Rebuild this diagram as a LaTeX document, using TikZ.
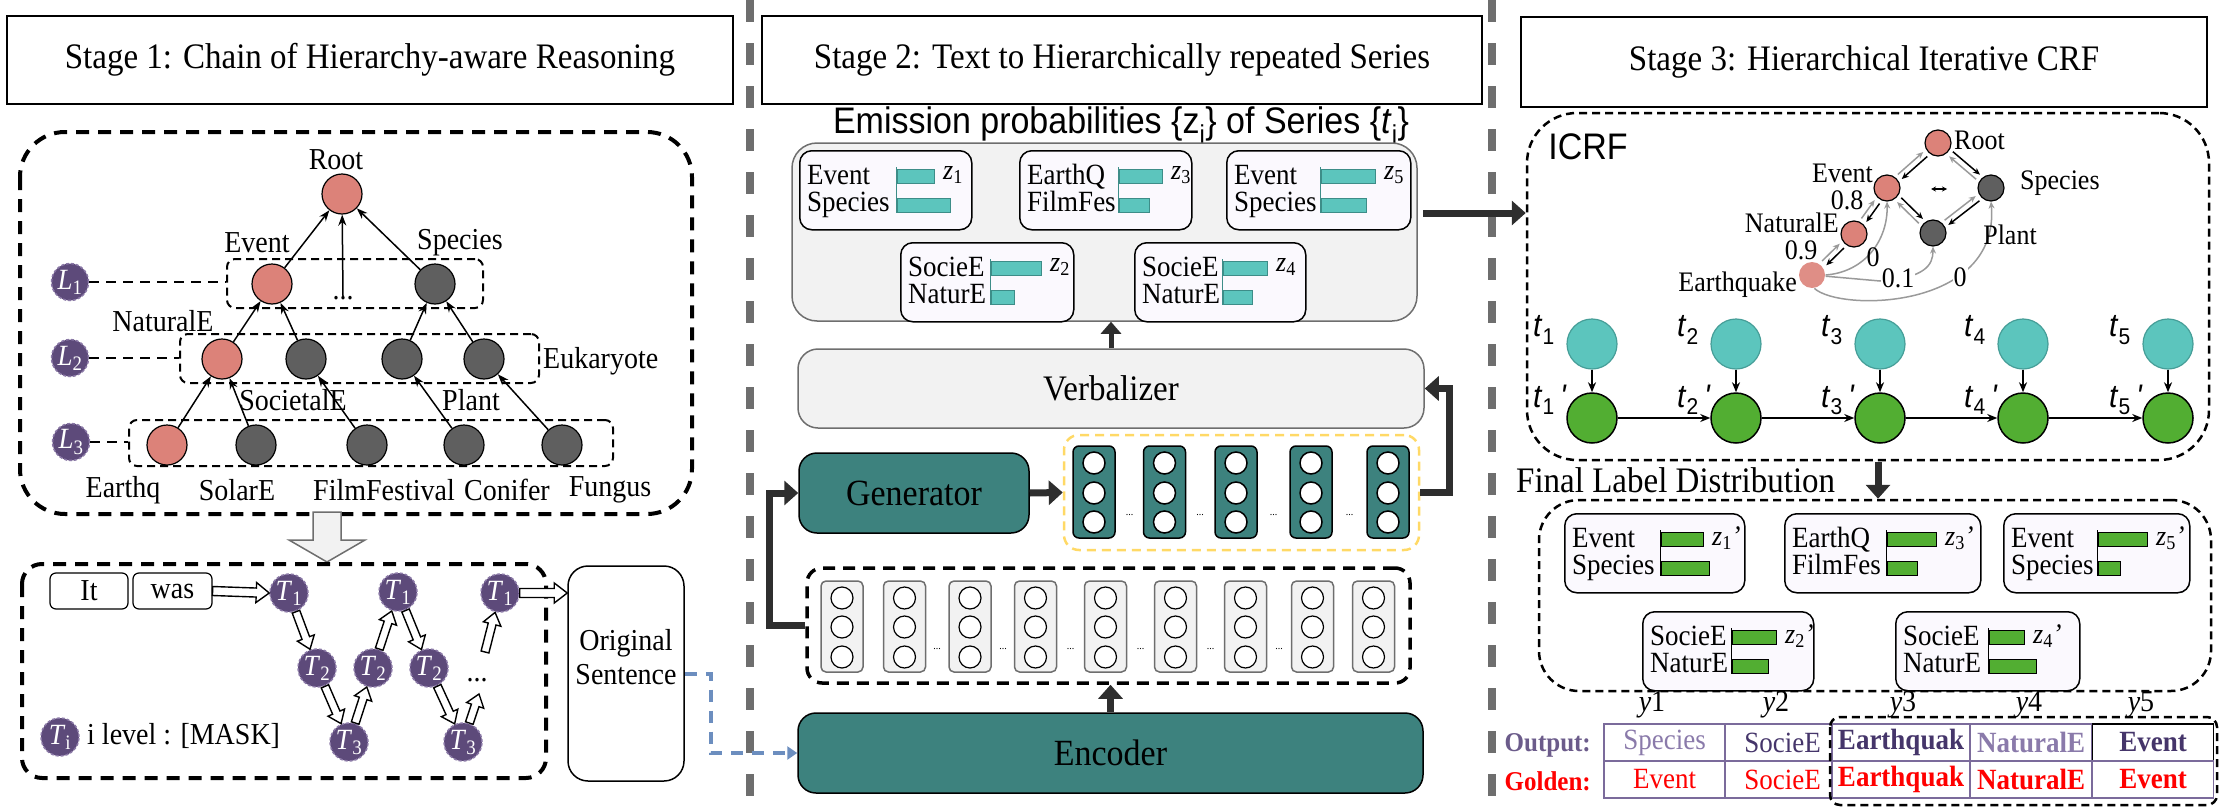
\documentclass[tikz,border=0pt]{standalone}
\usepackage{fontspec}
\setmainfont{Liberation Serif}[FakeStretch=0.92]
\newfontfamily\arialf{Liberation Sans}[FakeStretch=0.92]
\usetikzlibrary{arrows.meta,calc}
\newcommand\fsz[1]{\fontsize{\fpeval{#1*1.087}}{\fpeval{#1*1.087}}\selectfont}
\definecolor{pinkc}{HTML}{DC8279}
\definecolor{darkc}{HTML}{5F5F5F}
\definecolor{purp}{HTML}{5D4A7A}
\definecolor{purpb}{HTML}{8A78A6}
\definecolor{tealbar}{HTML}{5CC5BD}
\definecolor{tealbarb}{HTML}{3D8D88}
\definecolor{tealbox}{HTML}{3D827E}
\definecolor{lgray}{HTML}{F2F2F2}
\definecolor{mgray}{HTML}{6E6E6E}
\definecolor{lav}{HTML}{FBF9FE}
\definecolor{greenc}{HTML}{52AE32}
\definecolor{yel}{HTML}{FFD966}
\definecolor{bluec}{HTML}{6C8EBF}
\definecolor{tabc}{HTML}{7B6B9B}
\definecolor{outp}{HTML}{6B5B8A}
\definecolor{outl}{HTML}{8A7AAA}
\definecolor{outd}{HTML}{45356A}
\definecolor{ggray}{HTML}{9A9A9A}
\definecolor{darrow}{HTML}{2E2E2E}
\newcommand\haS{4.5pt}
\newcommand\haW{10pt}
\newcommand\haL{13pt}
\newcommand\harrowcore[3][]{%
  \coordinate (hh) at ($(#3)!\haL!(#2)$);
  \draw[#1] ($(#2)!\haS!90:(#3)$) -- ($(hh)!\haS!-90:(#2)$) -- ($(hh)!\haW!-90:(#2)$) -- (#3) -- ($(hh)!\haW!90:(#2)$) -- ($(hh)!\haS!90:(#2)$) -- ($(#2)!\haS!-90:(#3)$) -- cycle;}
\newcommand\harrowS[4][]{%
  \coordinate (ha) at ($(#2)!#4!(#3)$);
  \coordinate (hb) at ($(#3)!#4!(#2)$);
  \harrowcore[#1]{ha}{hb}}
\newcommand\barF{tealbar}
\newcommand\barD{tealbarb}
\newcommand\zl{}
\newcommand\dbox[9]{%
  \node[zbox, minimum width=#4pt, minimum height=79pt, anchor=north west] (#1) at (#2,#3) {};
  \begin{scope}[shift={(#2,#3)}]
    \node[wtxt, anchor=west] (#1w1) at (8,28) {#5};
    \node[wtxt, anchor=west] (#1w2) at (8,55) {#6};
    \draw[draw=\barD, line width=1pt] (#7-1,17) -- (#7-1,63);
    \node[bar, minimum width=#8pt, anchor=north west] (#1b1) at (#7,19) {};
    \node[bar, minimum width=#9pt, anchor=north west] (#1b2) at (#7,48) {};
    \node[ztxt, anchor=west] (#1z) at (#7+#8+9,25) {\zl};
  \end{scope}}
\newcommand\pairarr[2]{%
  \coordinate (pa) at ($(#1)!17pt!(#2)$);
  \coordinate (pb) at ($(#2)!17pt!(#1)$);
  \draw[garrB] ($(pa)!3pt!90:(pb)$) -- ($(pb)!3pt!-90:(pa)$);
  \draw[garrG] ($(pb)!3pt!90:(pa)$) -- ($(pa)!3pt!-90:(pb)$);}
\begin{document}
\begin{tikzpicture}[x=1pt,y=-1pt,
  sepline/.style={draw=mgray, line width=8pt, dash pattern=on 22pt off 21pt},
  titlebox/.style={draw, line width=1.5pt, inner sep=0pt, font=\fsz{33}},
  bigdash/.style={draw, line width=4pt, dash pattern=on 13pt off 9pt},
  lvlbox/.style={draw, line width=2pt, dash pattern=on 8pt off 5pt, rounded corners=8pt, inner sep=0pt},
  lvlline/.style={line width=2.5pt, dash pattern=on 10pt off 7pt},
  tnode/.style={circle, draw, line width=1.2pt, minimum size=40pt, inner sep=0pt},
  pk/.style={tnode, fill=pinkc},
  dk/.style={tnode, fill=darkc},
  lbl/.style={inner sep=0pt, font=\fsz{28}},
  tarr/.style={line width=1.5pt, -{Stealth[length=11pt,width=8pt]}},
  lcirc/.style={circle, fill=purp, draw=purpb, line width=1.5pt, dash pattern=on 3pt off 2pt, minimum size=37pt, inner sep=0pt, text=white, font=\fsz{27}},
  tcircle/.style={lcirc, minimum size=38pt},
  wbox/.style={draw, line width=1.2pt, rounded corners=6pt, minimum height=36pt, inner sep=0pt, font=\fsz{28}},
  hollow/.style={draw=black, fill=white, line width=1.4pt, line join=miter},
  graybig/.style={draw=mgray, fill=lgray, line width=1.5pt},
  bigarr/.style={draw=darrow, line width=7pt, line join=miter, -{Triangle[length=14pt,width=24pt]}},
  panel/.style={draw=mgray, fill=lgray, line width=1.5pt, rounded corners=25pt, inner sep=0pt},
  zbox/.style={draw, fill=lav, line width=1.5pt, rounded corners=12pt, inner sep=0pt},
  wtxt/.style={inner sep=0pt, font=\fsz{27}, text height=19pt, text depth=6pt},
  ztxt/.style={inner sep=0pt, font=\fsz{26}},
  bar/.style={rectangle, fill=\barF, draw=\barD, line width=1pt, minimum height=14pt, inner sep=0pt},
  tcolbox/.style={draw, fill=tealbox, line width=1.5pt, rounded corners=6pt, minimum width=42pt, minimum height=92pt, inner sep=0pt},
  gcolbox/.style={draw=mgray, fill=lgray, line width=1.5pt, rounded corners=5pt, minimum width=42pt, minimum height=91pt, inner sep=0pt},
  wcirc/.style={circle, draw, fill=white, line width=1.5pt, minimum size=22pt, inner sep=0pt},
  tealbig/.style={draw, fill=tealbox, line width=1.5pt, rounded corners=18pt, inner sep=0pt, font=\fsz{34}},
  thindash/.style={draw, line width=2.5pt, dash pattern=on 8pt off 5pt, inner sep=0pt},
  gnode/.style={circle, draw, line width=1.2pt, minimum size=26pt, inner sep=0pt},
  wlab/.style={inner sep=0pt, font=\fsz{26}},
  garrB/.style={draw=black, line width=1.5pt, -{Stealth[length=7pt,width=6pt]}},
  garrG/.style={draw=ggray, line width=1.5pt, -{Stealth[length=7pt,width=6pt]}},
  gcurve/.style={draw=ggray, line width=1.5pt, -{Stealth[length=7pt,width=6pt]}},
  tcirc/.style={circle, draw=tealbarb!70!tealbar, fill=tealbar, line width=1.2pt, minimum size=50pt, inner sep=0pt},
  gcirc/.style={circle, draw, fill=greenc, line width=1.5pt, minimum size=50pt, inner sep=0pt},
  thinarr/.style={line width=1.5pt, -{Stealth[length=10pt,width=8pt]}},
  tlab/.style={inner sep=0pt, font=\arialf\fsz{30}},
  cell/.style={draw=tabc, line width=1.8pt, minimum height=37pt, inner sep=0pt, font=\fsz{27}},
  bluearr/.style={draw=bluec, line width=4pt, dash pattern=on 12pt off 9pt, -{Triangle[length=10pt,width=13pt]}}
]
\useasboundingbox (0,0) rectangle (2222,811);

% separators
\draw[sepline] (750,0) -- (750,811);
\draw[sepline] (1492,0) -- (1492,811);

% titles
\node[titlebox, minimum width=726pt, minimum height=88pt] (ti1) at (370,60) {Stage 1: Chain of Hierarchy-aware Reasoning};
\node[titlebox, minimum width=720pt, minimum height=88pt] (ti2) at (1122,60) {Stage 2: Text to Hierarchically repeated Series};
\node[titlebox, minimum width=686pt, minimum height=90pt] (ti3) at (1864,62) {Stage 3: Hierarchical Iterative CRF};

% ================= Stage 1 =================
\draw[bigdash, rounded corners=45pt] (20,132) rectangle (692,514);
\node[lvlbox, minimum width=256pt, minimum height=49pt] (B1) at (355,283.5) {};
\node[lvlbox, minimum width=359pt, minimum height=49pt] (B2) at (359.5,358.5) {};
\node[lvlbox, minimum width=484pt, minimum height=46pt] (B3) at (371,443) {};

\node[pk] (root) at (342,194) {};
\node[pk] (ev) at (272,284) {};
\node[dk] (sp) at (435,284) {};
\node[lbl] (dots1) at (343,298) {...};
\node[pk] (na) at (222,359) {};
\node[dk] (so) at (306,359) {};
\node[dk] (eu) at (402,359) {};
\node[dk] (pl) at (484,359) {};
\node[pk] (eq) at (167,445) {};
\node[dk] (sol) at (256,445) {};
\node[dk] (ff) at (367,445) {};
\node[dk] (co) at (464,445) {};
\node[dk] (fu) at (562,445) {};

\draw[tarr] (ev) -- (root);
\draw[tarr] (sp) -- (root);
\draw[tarr] (dots1.north) -- (root);
\draw[tarr] (na) -- (ev);
\draw[tarr] (so) -- (ev);
\draw[tarr] (eu) -- (sp);
\draw[tarr] (pl) -- (sp);
\draw[tarr] (eq) -- (na);
\draw[tarr] (sol) -- (na);
\draw[tarr] (ff) -- (so);
\draw[tarr] (co) -- (eu);
\draw[tarr] (fu) -- (pl);

\node[lbl] (rootl) at (336,160) {Root};
\node[lbl] (evl) at (257,243) {Event};
\node[lbl] (spl) at (460,243) {Species};
\node[lbl] (nal) at (163,321) {NaturalE};
\node[lbl, anchor=west] (eul) at (543,361) {Eukaryote};
\node[lbl] (socl) at (293,400) {SocietalE};
\node[lbl] (pll) at (471,400) {Plant};
\node[lbl] (eql) at (123,490) {Earthq};
\node[lbl] (soll) at (237,490) {SolarE};
\node[lbl] (ffl) at (384,490) {FilmFestival};
\node[lbl] (col) at (507,490) {Conifer};
\node[lbl] (ful) at (610,490) {Fungus};

\node[lcirc] (L1) at (70,282) {\textit{L}\textsubscript{1}};
\node[lcirc] (L2) at (70,358) {\textit{L}\textsubscript{2}};
\node[lcirc] (L3) at (71,442) {\textit{L}\textsubscript{3}};
\draw[lvlline] (L1) -- (L1 -| B1.west);
\draw[lvlline] (L2) -- (L2 -| B2.west);
\draw[lvlline] (L3) -- (L3 -| B3.west);

% gray down arrow
\coordinate (ga1) at (327,512);
\coordinate (ga2) at (327,562);
\renewcommand\haS{14pt}\renewcommand\haW{38pt}\renewcommand\haL{22pt}
\harrowcore[graybig]{ga1}{ga2}
\renewcommand\haS{4.5pt}\renewcommand\haW{10pt}\renewcommand\haL{13pt}

% lower box
\draw[bigdash, rounded corners=20pt] (22,564) rectangle (546,778);
\node[wbox, minimum width=78pt] (it) at (89,591) {It};
\node[wbox, minimum width=79pt] (was) at (172.5,591) {was};

\node[tcircle] (T1a) at (289,593) {\textit{T}\textsubscript{1}};
\node[tcircle] (T2a) at (317,668) {\textit{T}\textsubscript{2}};
\node[tcircle] (T3a) at (349,742) {\textit{T}\textsubscript{3}};
\node[tcircle] (T2b) at (373,668) {\textit{T}\textsubscript{2}};
\node[tcircle] (T1b) at (398,592) {\textit{T}\textsubscript{1}};
\node[tcircle] (T2c) at (429,668) {\textit{T}\textsubscript{2}};
\node[tcircle] (T3b) at (463,742) {\textit{T}\textsubscript{3}};
\node[tcircle] (T1c) at (500,593) {\textit{T}\textsubscript{1}};
\node[lbl] (dots2) at (477,680) {...};

\node[draw, line width=1.5pt, rounded corners=20pt, minimum width=116pt, minimum height=215pt] (orig) at (626,673.5) {};
\node[inner sep=0pt, align=center, font=\fsz{28}] (origt) at (626,657) {Original\\[4pt]Sentence};

\harrowcore[hollow]{was.east}{T1a.west}
\renewcommand\haS{4pt}\renewcommand\haW{9pt}\renewcommand\haL{12pt}
\harrowS[hollow]{T1a}{T2a}{20pt}
\harrowS[hollow]{T2a}{T3a}{20pt}
\harrowS[hollow]{T3a}{T2b}{20pt}
\harrowS[hollow]{T2b}{T1b}{20pt}
\harrowS[hollow]{T1b}{T2c}{20pt}
\harrowS[hollow]{T2c}{T3b}{20pt}
\coordinate (up1) at (479,694);
\coordinate (up1s) at ($(T3b)!20pt!(up1)$);
\harrowcore[hollow]{up1s}{up1}
\coordinate (lo1) at (485,652);
\coordinate (lo1e) at ($(T1c)!20pt!(lo1)$);
\harrowcore[hollow]{lo1}{lo1e}
\renewcommand\haS{4.5pt}\renewcommand\haW{10pt}\renewcommand\haL{13pt}
\coordinate (os) at (T1c.east -| orig.west);
\harrowcore[hollow]{T1c.east}{os}

\node[tcircle] (leg) at (60,737) {\textit{T}\textsubscript{i}};
\node[lbl, anchor=west] (legt) at (87,736) {i level : [MASK]};

% ================= Stage 2 =================
\node[inner sep=0pt, font=\arialf\fsz{34}] (emt) at (1121,125) {Emission probabilities \{z\textsubscript{i}\} of Series \{\textit{t}\textsubscript{i}\}};
\node[panel, minimum width=625pt, minimum height=178pt] (emis) at (1104.5,232) {};

\renewcommand\zl{\textit{z}\textsubscript{1}}
\dbox{z1}{799}{150}{172}{Event}{Species}{98}{37}{53}
\renewcommand\zl{\textit{z}\textsubscript{3}}
\dbox{z3}{1019}{150}{172}{EarthQ}{FilmFes}{100}{43}{30}
\renewcommand\zl{\textit{z}\textsubscript{5}}
\dbox{z5}{1226}{150}{184}{Event}{Species}{95}{54}{45}
\renewcommand\zl{\textit{z}\textsubscript{2}}
\dbox{z2}{900}{242}{173}{SocieE}{NaturE}{91}{50}{23}
\renewcommand\zl{\textit{z}\textsubscript{4}}
\dbox{z4}{1134}{242}{171}{SocieE}{NaturE}{89}{44}{29}

\node[draw=mgray, fill=lgray, line width=1.5pt, rounded corners=20pt, minimum width=626pt, minimum height=79pt, inner sep=0pt, font=\fsz{33}] (verb) at (1111,388.5) {Verbalizer};
\draw[bigarr, line width=5pt, -{Triangle[length=12pt,width=20pt]}] (verb.north) -- (verb.north |- emis.south);

\node[tealbig, minimum width=230pt, minimum height=80pt] (gen) at (914,493) {Generator};
\node[draw=yel, line width=2.5pt, dash pattern=on 9pt off 6pt, rounded corners=15pt, minimum width=355pt, minimum height=115pt, inner sep=0pt] (ybox) at (1241.5,492.5) {};
\foreach \x [count=\i] in {1094,1164.5,1236,1311,1388} {
  \node[tcolbox] (yc\i) at (\x,492) {};
  \foreach \yy [count=\j] in {463,493,522} {\node[wcirc] (yc\i-\j) at (\x,\yy) {};}
}
\foreach \x [count=\i] in {1129.5,1200,1273.5,1349.5} {\node[font=\fsz{10}, inner sep=0pt] (yd\i) at (\x,515) {...};}

\node[draw, line width=3.5pt, dash pattern=on 12pt off 8pt, rounded corners=15pt, minimum width=603pt, minimum height=115pt, inner sep=0pt] (ebox) at (1108.5,625.5) {};
\foreach \x [count=\i] in {842,904.5,970,1035.5,1105.5,1175.5,1245.5,1312.5,1373.5} {
  \node[gcolbox] (ec\i) at (\x,626.5) {};
  \foreach \yy [count=\j] in {598,627,657} {\node[wcirc, line width=1.2pt] (ec\i-\j) at (\x,\yy) {};}
}
\foreach \x [count=\i] in {937,1003,1070.5,1140.5,1210.5,1279} {\node[font=\fsz{10}, inner sep=0pt] (ed\i) at (\x,649) {...};}

\node[tealbig, minimum width=625pt, minimum height=80pt] (enc) at (1110.5,753) {Encoder};

\draw[bigarr] (gen.east) -- (ybox.west);
\draw[bigarr] (ybox.east) -- ++(29,0) |- (verb.east);
\draw[bigarr] (ebox.west) -- ++(-36,0) |- (gen.west);
\draw[bigarr] (enc.north) -- (enc.north |- ebox.south);
\draw[bluearr] (orig.east) -- ++(26,0) |- (enc.west);

\coordinate (ea) at (1423,213);
\node[thindash, minimum width=682pt, minimum height=347pt, rounded corners=50pt] (icrf) at (1868,286.5) {};
\draw[bigarr] (ea) -- (ea -| icrf.west);

% ================= Stage 3 =================
\node[inner sep=0pt, font=\arialf\fsz{34}] (icrft) at (1588,147) {ICRF};

\node[gnode, fill=pinkc] (gR) at (1938,143) {};
\node[gnode, fill=pinkc] (gE) at (1887,188) {};
\node[gnode, fill=darkc] (gS) at (1991,188) {};
\node[gnode, fill=pinkc] (gN) at (1854,234) {};
\node[gnode, fill=darkc] (gP) at (1933,233) {};
\node[gnode, fill=pinkc!90!white, draw=none] (gQ) at (1812,275) {};

\pairarr{gR}{gE}
\pairarr{gR}{gS}
\pairarr{gE}{gN}
\pairarr{gE}{gP}
\pairarr{gS}{gP}
\pairarr{gN}{gQ}
\coordinate (lr1) at (1931,189);
\coordinate (lr2) at (1947,189);
\draw[line width=1.3pt, {Stealth[length=5pt,width=5pt]}-{Stealth[length=5pt,width=5pt]}] (lr1) -- (lr2);

\draw[gcurve] (gQ.east) .. controls (1865,272) and (1888,240) .. (gE.south);
\draw[gcurve] (gQ.-5) -- (1880,281) .. controls (1925,278) and (1933,265) .. (gP.south);
\draw[gcurve] (gQ.-80) .. controls (1840,312) and (2000,310) .. (gS.south);

\node[wlab, anchor=west] (gRl) at (1954,140) {Root};
\node[wlab, anchor=east] (gEl) at (1873,173) {Event};
\node[wlab, anchor=west] (gSl) at (2020,183) {Species};
\node[wlab, anchor=east] (gNl) at (1839,223) {NaturalE};
\node[wlab] (gPl) at (2010,235) {Plant};
\node[wlab, anchor=east] (gQl) at (1797,285) {Earthquake};
\node[wlab] (w1) at (1847,200) {0.8};
\node[wlab] (w2) at (1801,250) {0.9};
\node[wlab] (w3) at (1873,257) {0};
\node[wlab, fill=white, inner sep=1pt] (w4) at (1898,278) {0.1};
\node[wlab, fill=white, inner sep=1pt] (w5) at (1960,277) {0};

\foreach \x [count=\i] in {1592,1736,1880,2023,2168} {
  \node[tcirc] (tc\i) at (\x,344) {};
  \node[gcirc] (gc\i) at (\x,418) {};
  \draw[thinarr] (tc\i) -- (gc\i);
  \node[tlab] (tl\i) at (\x-48,330) {\textit{t}\textsubscript{\i}};
  \node[tlab] (tp\i) at (\x-42,400) {\textit{t}\textsubscript{\i}\,\textit{'}};
}
\foreach \i/\j in {1/2,2/3,3/4,4/5} {\draw[thinarr] (gc\i) -- (gc\j);}

\node[inner sep=0pt, font=\fsz{33}, anchor=west] (fld) at (1516,480) {Final Label Distribution};
\node[thindash, minimum width=672pt, minimum height=191pt, rounded corners=40pt] (fbox) at (1875,595.5) {};
\coordinate (fa) at (1878,462);
\draw[bigarr] (fa) -- (fa |- fbox.north);

\renewcommand\barF{greenc}\renewcommand\barD{black}
\renewcommand\zl{\textit{z}\textsubscript{1}\textit{'}}
\dbox{f1}{1564}{513}{180}{Event}{Species}{97}{42}{48}
\renewcommand\zl{\textit{z}\textsubscript{3}\textit{'}}
\dbox{f3}{1784}{513}{196}{EarthQ}{FilmFes}{103}{49}{30}
\renewcommand\zl{\textit{z}\textsubscript{5}\textit{'}}
\dbox{f5}{2003}{513}{186}{Event}{Species}{95}{49}{22}
\renewcommand\zl{\textit{z}\textsubscript{2}\textit{'}}
\dbox{f2}{1642}{611}{171}{SocieE}{NaturE}{90}{44}{36}
\renewcommand\zl{\textit{z}\textsubscript{4}\textit{'}}
\dbox{f4}{1895}{611}{184}{SocieE}{NaturE}{94}{35}{47}

\node[lbl] (y1) at (1652,705) {\textit{y}1};
\node[lbl] (y2) at (1776,705) {\textit{y}2};
\node[lbl] (y3) at (1903,705) {\textit{y}3};
\node[lbl] (y4) at (2029,705) {\textit{y}4};
\node[lbl] (y5) at (2141,705) {\textit{y}5};

\node[cell, minimum width=121pt, text=outl] (o1) at (1664.5,742.5) {Species};
\node[cell, minimum width=107pt, text=outd] (o2) at (1778.5,742.5) {\hspace*{8pt}SocieE};
\node[cell, minimum width=138pt, text=outd, font=\fsz{27}\bfseries] (o3) at (1901,742.5) {Earthquak};
\node[cell, minimum width=122pt, text=outl, font=\fsz{27}\bfseries] (o4) at (2031,742.5) {NaturalE};
\node[cell, minimum width=121pt, minimum height=37pt, text=outd, font=\fsz{27}\bfseries, draw=black] (o5) at (2153,742.5) {Event};
\node[cell, minimum width=121pt, text=red] (g1) at (1664.5,779.5) {Event};
\node[cell, minimum width=107pt, text=red] (g2) at (1778.5,779.5) {\hspace*{8pt}SocieE};
\node[cell, minimum width=138pt, text=red, font=\fsz{27}\bfseries] (g3) at (1901,779.5) {Earthquak};
\node[cell, minimum width=122pt, text=red, font=\fsz{27}\bfseries] (g4) at (2031,779.5) {NaturalE};
\node[cell, minimum width=121pt, text=red, font=\fsz{27}\bfseries] (g5) at (2153,779.5) {Event};
\node[inner sep=0pt, font=\fsz{25}\bfseries, text=outp, anchor=east] (outlab) at (1591,745) {Output:};
\node[inner sep=0pt, font=\fsz{25}\bfseries, text=red, anchor=east] (goldlab) at (1591,781) {Golden:};
\draw[line width=2.5pt, dash pattern=on 8pt off 5pt, rounded corners=10pt] (1830,717) rectangle (2217,805);
\end{tikzpicture}
\end{document}
